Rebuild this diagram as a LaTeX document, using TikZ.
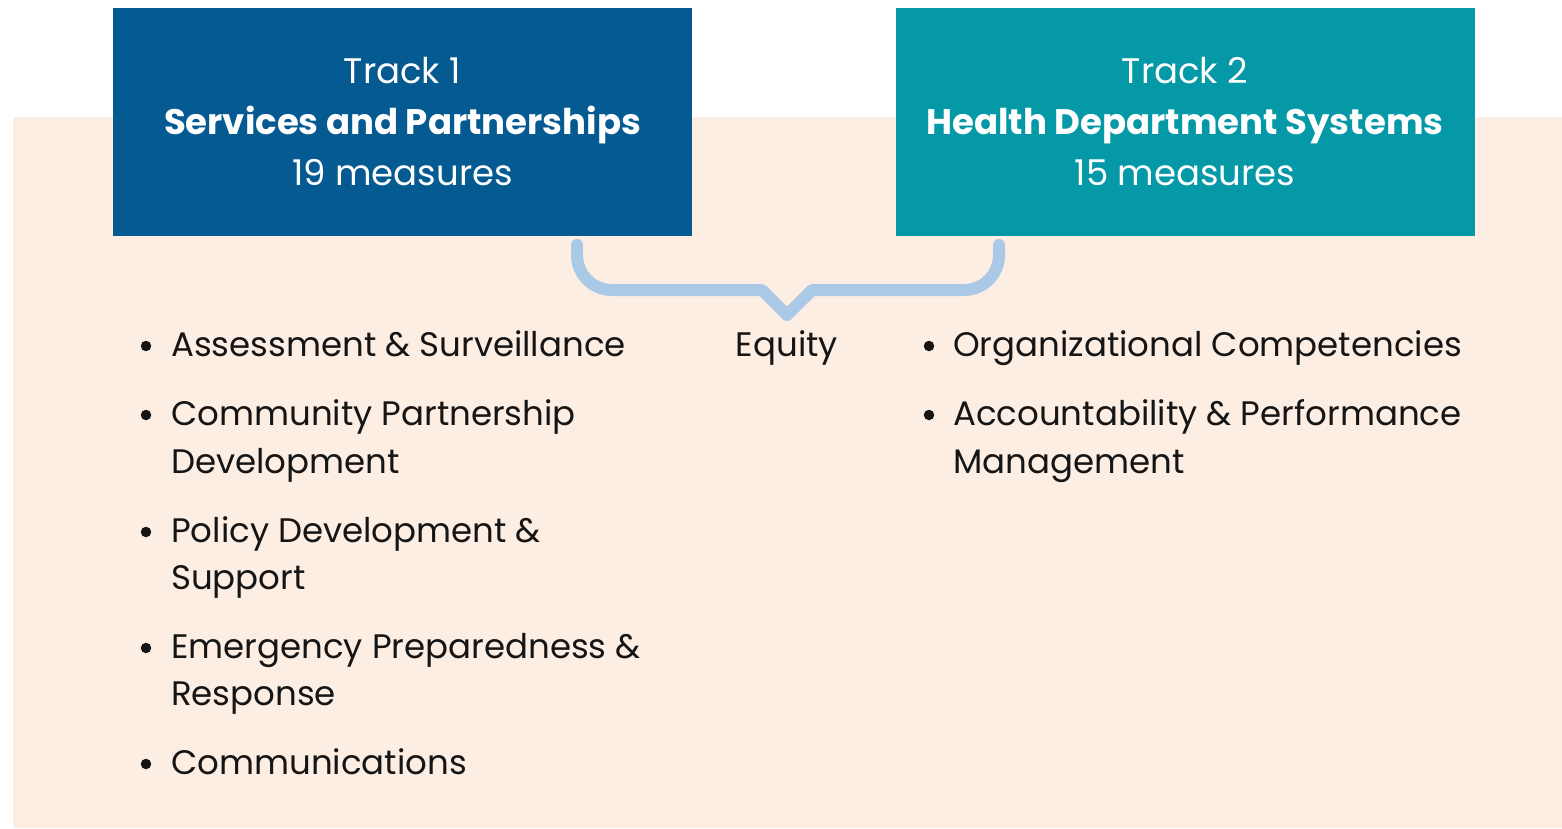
\documentclass[tikz,border=0pt]{standalone}
\usepackage{fontspec}
\setmainfont{Poppins}
\definecolor{peach}{HTML}{FDEEE3}
\definecolor{tblue}{HTML}{045A91}
\definecolor{tteal}{HTML}{0598A6}
\definecolor{brace}{HTML}{A9C9E6}
\definecolor{ink}{HTML}{151515}
\tikzset{
  trackbox/.style={minimum width=579pt, minimum height=228pt, inner sep=0pt, text=white, align=center,
    font=\fontsize{35.5}{51}\selectfont},
  itemtext/.style={anchor=base west, inner sep=0pt, text=ink,
    font=\fontsize{34}{48}\selectfont},
  bulletdot/.style={circle, fill=ink, inner sep=0pt, minimum size=10.5pt},
}
\begin{document}
\begin{tikzpicture}[x=1pt,y=-1pt]
\useasboundingbox (0,0) rectangle (1562,828);
\fill[peach] (13,117) rectangle (1562,828);
\node[trackbox, fill=tblue] (box1) at (402.5,122) {Track 1\\\textbf{Services and Partnerships}\\19 measures};
\node[trackbox, fill=tteal] (box2) at (1185,122) {Track 2\\\textbf{Health Department Systems}\\15 measures};
% brace
\coordinate (bl) at (577,245);
\coordinate (br) at (999,245);
\coordinate (tip) at (787,315);
\draw[brace, line width=12pt, line cap=round, line join=round]
  (bl) -- (577,255) to[out=-90,in=180] (612,290) -- (762,290) -- (tip) -- (812,290) -- (964,290) to[out=0,in=-90] (999,255) -- (br);
\node[itemtext, anchor=base] (equity) at (787,356) {Equity};
% left list
\node[bulletdot] (b1) at (146,346) {};
\node[itemtext] (i1) at (171,356) {Assessment \& Surveillance};
\node[bulletdot] (b2) at (146,415) {};
\node[itemtext] (i2) at (171,425) {Community Partnership};
\node[itemtext] (i2b) at (171,473) {Development};
\node[bulletdot] (b3) at (146,532) {};
\node[itemtext] (i3) at (171,542) {Policy Development \&};
\node[itemtext] (i3b) at (171,589) {Support};
\node[bulletdot] (b4) at (146,648) {};
\node[itemtext] (i4) at (171,658) {Emergency Preparedness \&};
\node[itemtext] (i4b) at (171,705) {Response};
\node[bulletdot] (b5) at (146,764) {};
\node[itemtext] (i5) at (171,774) {Communications};
% right list
\node[bulletdot] (b6) at (929,346) {};
\node[itemtext] (i6) at (953,356) {Organizational Competencies};
\node[bulletdot] (b7) at (929,415) {};
\node[itemtext] (i7) at (953,425) {Accountability \& Performance};
\node[itemtext] (i7b) at (953,473) {Management};
\end{tikzpicture}
\end{document}
